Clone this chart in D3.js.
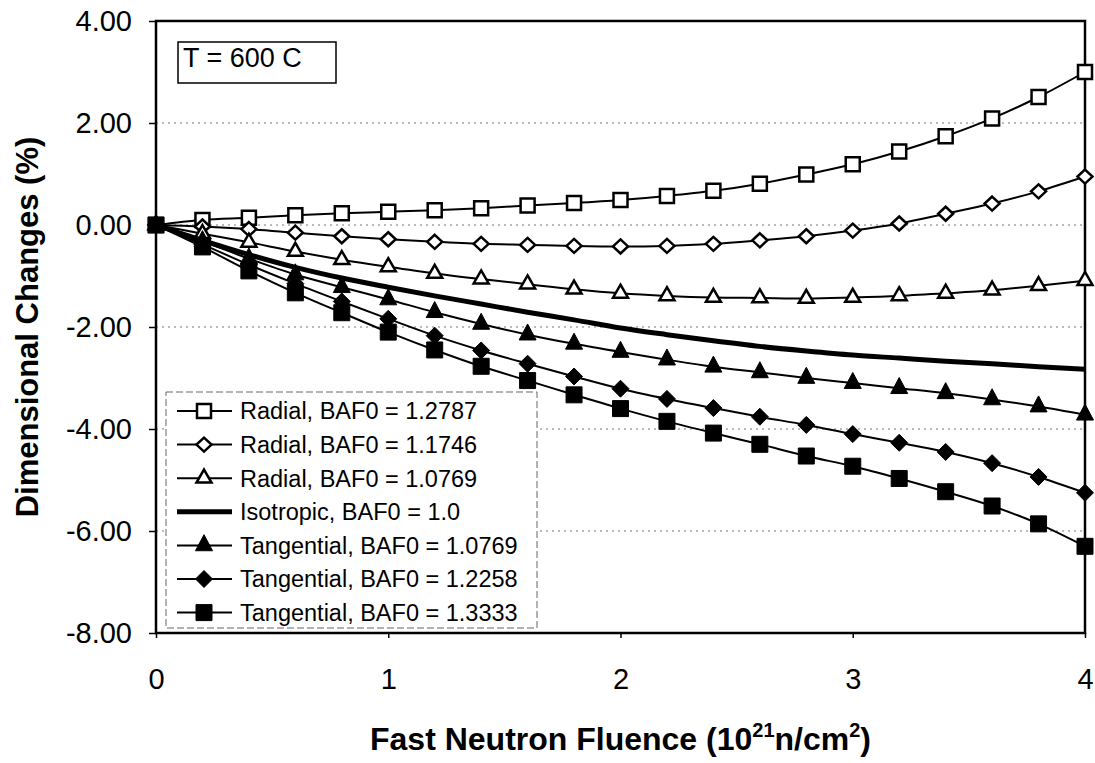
<!DOCTYPE html>
<html>
<head>
<meta charset="utf-8">
<script src="https://cdn.jsdelivr.net/npm/d3@7"></script>
<style>
	body { margin: 0; background: #fff; }
	text { font-family: "Liberation Sans", Arial, sans-serif; fill: #000; }
</style>
</head>
<body>
<div id="chart"></div>
<script>

// data (fluence in 10^21 n/cm2, change in %)
var fluence = [0, 0.2, 0.4, 0.6, 0.8, 1.0, 1.2, 1.4, 1.6, 1.8, 2.0, 2.2, 2.4, 2.6, 2.8, 3.0, 3.2, 3.4, 3.6, 3.8, 4.0];

var radial12787 = [0, 0.10, 0.14, 0.19, 0.23, 0.26, 0.29, 0.33, 0.38, 0.43, 0.49, 0.57, 0.67, 0.81, 0.99, 1.19, 1.44, 1.74, 2.09, 2.51, 3.00];
var radial11746 = [0, -0.03, -0.08, -0.15, -0.22, -0.28, -0.33, -0.37, -0.39, -0.41, -0.42, -0.41, -0.37, -0.30, -0.22, -0.11, 0.03, 0.22, 0.42, 0.66, 0.95];
var radial10769 = [0, -0.17, -0.34, -0.52, -0.68, -0.82, -0.95, -1.06, -1.16, -1.26, -1.34, -1.39, -1.42, -1.43, -1.44, -1.42, -1.39, -1.34, -1.28, -1.19, -1.09];
var isotropic10 = [0, -0.30, -0.58, -0.83, -1.04, -1.22, -1.39, -1.55, -1.71, -1.86, -2.02, -2.15, -2.27, -2.38, -2.47, -2.55, -2.61, -2.67, -2.72, -2.78, -2.83];
var tang10769 = [0, -0.32, -0.66, -0.97, -1.22, -1.46, -1.71, -1.94, -2.15, -2.33, -2.49, -2.64, -2.78, -2.89, -3.00, -3.10, -3.20, -3.30, -3.42, -3.56, -3.72];
var tang12258 = [0, -0.38, -0.78, -1.15, -1.50, -1.84, -2.17, -2.46, -2.72, -2.97, -3.21, -3.41, -3.59, -3.76, -3.92, -4.10, -4.27, -4.45, -4.67, -4.94, -5.25];
var tang13333 = [0, -0.43, -0.90, -1.33, -1.72, -2.10, -2.45, -2.77, -3.05, -3.33, -3.60, -3.85, -4.08, -4.30, -4.53, -4.73, -4.97, -5.23, -5.51, -5.86, -6.30];

var seriesNames = [
	'Radial, BAF0 = 1.2787',
	'Radial, BAF0 = 1.1746',
	'Radial, BAF0 = 1.0769',
	'Isotropic, BAF0 = 1.0',
	'Tangential, BAF0 = 1.0769',
	'Tangential, BAF0 = 1.2258',
	'Tangential, BAF0 = 1.3333'
];

var xTicks = [0, 1, 2, 3, 4];
var yTicks = [4, 2, 0, -2, -4, -6, -8];
var gridValues = [2, 0, -2, -4, -6];

var series = [
	{name: seriesNames[0], values: radial12787, marker: 'square', filled: false},
	{name: seriesNames[1], values: radial11746, marker: 'diamond', filled: false},
	{name: seriesNames[2], values: radial10769, marker: 'triangle', filled: false},
	{name: seriesNames[3], values: isotropic10, marker: null, filled: true},
	{name: seriesNames[4], values: tang10769, marker: 'triangle', filled: true},
	{name: seriesNames[5], values: tang12258, marker: 'diamond', filled: true},
	{name: seriesNames[6], values: tang13333, marker: 'square', filled: true}
];

var margin = {top: 21, right: 10, bottom: 130, left: 156};
var width = 1095, height = 763;
var chartWidth = width - margin.left - margin.right;
var chartHeight = height - margin.top - margin.bottom;

var svg = d3.select('#chart').append('svg')
	.attr('width', width)
	.attr('height', height);

svg.append('rect').attr('width', width).attr('height', height).attr('fill', '#fff');

var g = svg.append('g')
	.attr('transform', `translate(${margin.left}, ${margin.top})`);

var xScale = d3.scaleLinear().domain([0, 4]).range([0, chartWidth]);
var yScale = d3.scaleLinear().domain([-8, 4]).range([chartHeight, 0]);

// dotted gridlines
g.selectAll('.grid')
	.data(gridValues)
	.enter()
	.append('line')
	.attr('x1', 0)
	.attr('x2', chartWidth)
	.attr('y1', d => yScale(d))
	.attr('y2', d => yScale(d))
	.attr('stroke', '#777')
	.attr('stroke-width', 1)
	.attr('stroke-dasharray', '2,4');

var yAxis = d3.axisLeft(yScale)
	.tickValues(yTicks)
	.tickSize(7)
	.tickPadding(17)
	.tickFormat(d => d.toFixed(2));

var xAxis = d3.axisBottom(xScale)
	.tickValues(xTicks)
	.tickSize(5)
	.tickPadding(30)
	.tickFormat(d3.format('d'));

var yG = g.append('g').call(yAxis);
var xG = g.append('g').attr('transform', `translate(0, ${chartHeight})`).call(xAxis);

[yG, xG].forEach(function(ax) {
	ax.select('.domain').remove();
	ax.selectAll('line').attr('stroke', '#000').attr('stroke-width', 1.5);
	ax.selectAll('text')
		.style('font-size', '29px')
		.attr('fill', '#000');
});

// plot frame
g.append('rect')
	.attr('width', chartWidth)
	.attr('height', chartHeight)
	.attr('fill', 'none')
	.attr('stroke', '#000')
	.attr('stroke-width', 2.5);

function markerPath(type, filled) {
	var w, h;
	if (type === 'square') {
		w = filled ? 16 : 14;
		return `M${-w/2},${-w/2}h${w}v${w}h${-w}Z`;
	}
	if (type === 'diamond') {
		w = filled ? 17 : 15; h = filled ? 17 : 14;
		return `M0,${-h/2}L${w/2},0L0,${h/2}L${-w/2},0Z`;
	}
	w = filled ? 17 : 15; h = filled ? 16 : 13;
	return `M0,${-h*2/3}L${w/2},${h/3}L${-w/2},${h/3}Z`;
}

var line = d3.line()
	.x((d, i) => xScale(fluence[i]))
	.y(d => yScale(d))
	.curve(d3.curveMonotoneX);

series.forEach(function(s) {
	var sg = g.append('g');
	sg.append('path')
		.datum(s.values)
		.attr('d', line)
		.attr('fill', 'none')
		.attr('stroke', '#000')
		.attr('stroke-width', s.marker ? 2 : 5);

	if (!s.marker) return;
	sg.selectAll('.pt')
		.data(s.values)
		.enter()
		.append('path')
		.attr('transform', (d, i) => `translate(${xScale(fluence[i])}, ${yScale(d)})`)
		.attr('d', markerPath(s.marker, s.filled))
		.attr('fill', s.filled ? '#000' : '#fff')
		.attr('stroke', '#000')
		.attr('stroke-width', s.filled ? 1 : 2.5);
});

// legend
var legend = svg.append('g').attr('transform', 'translate(166, 392)');
legend.append('rect')
	.attr('width', 371)
	.attr('height', 236)
	.attr('fill', '#fff')
	.attr('stroke', '#666')
	.attr('stroke-width', 1)
	.attr('stroke-dasharray', '7,3');

var rows = legend.selectAll('.row')
	.data(series)
	.enter()
	.append('g')
	.attr('transform', (d, i) => `translate(0, ${19 + i * 33.6})`);

rows.append('line')
	.attr('x1', 11)
	.attr('x2', 66)
	.attr('stroke', '#000')
	.attr('stroke-width', d => d.marker ? 2 : 5);

rows.filter(d => d.marker)
	.append('path')
	.attr('transform', 'translate(38, 0)')
	.attr('d', d => markerPath(d.marker, d.filled))
	.attr('fill', d => d.filled ? '#000' : '#fff')
	.attr('stroke', '#000')
	.attr('stroke-width', d => d.filled ? 1 : 2.5);

rows.append('text')
	.attr('x', 74)
	.attr('dy', '0.36em')
	.style('font-size', '23.5px')
	.text(d => d.name);

// temperature box
svg.append('rect')
	.attr('x', 178).attr('y', 42)
	.attr('width', 158).attr('height', 41)
	.attr('fill', '#fff')
	.attr('stroke', '#000')
	.attr('stroke-width', 1.5);
svg.append('text')
	.attr('x', 183).attr('y', 67)
	.style('font-size', '27px')
	.text('T = 600 C');

// axis titles
svg.append('text')
	.attr('transform', `translate(38, ${margin.top + chartHeight / 2}) rotate(-90)`)
	.attr('text-anchor', 'middle')
	.style('font-size', '31px')
	.style('font-weight', 'bold')
	.text('Dimensional Changes (%)');

var xTitle = svg.append('text')
	.attr('x', margin.left + chartWidth / 2)
	.attr('y', 750)
	.attr('text-anchor', 'middle')
	.style('font-size', '32px')
	.style('font-weight', 'bold');
xTitle.append('tspan').text('Fast Neutron Fluence (10');
xTitle.append('tspan').attr('dy', -13).style('font-size', '20px').text('21');
xTitle.append('tspan').attr('dy', 13).text('n/cm');
xTitle.append('tspan').attr('dy', -13).style('font-size', '20px').text('2');
xTitle.append('tspan').attr('dy', 13).text(')');

</script>
</body>
</html>
